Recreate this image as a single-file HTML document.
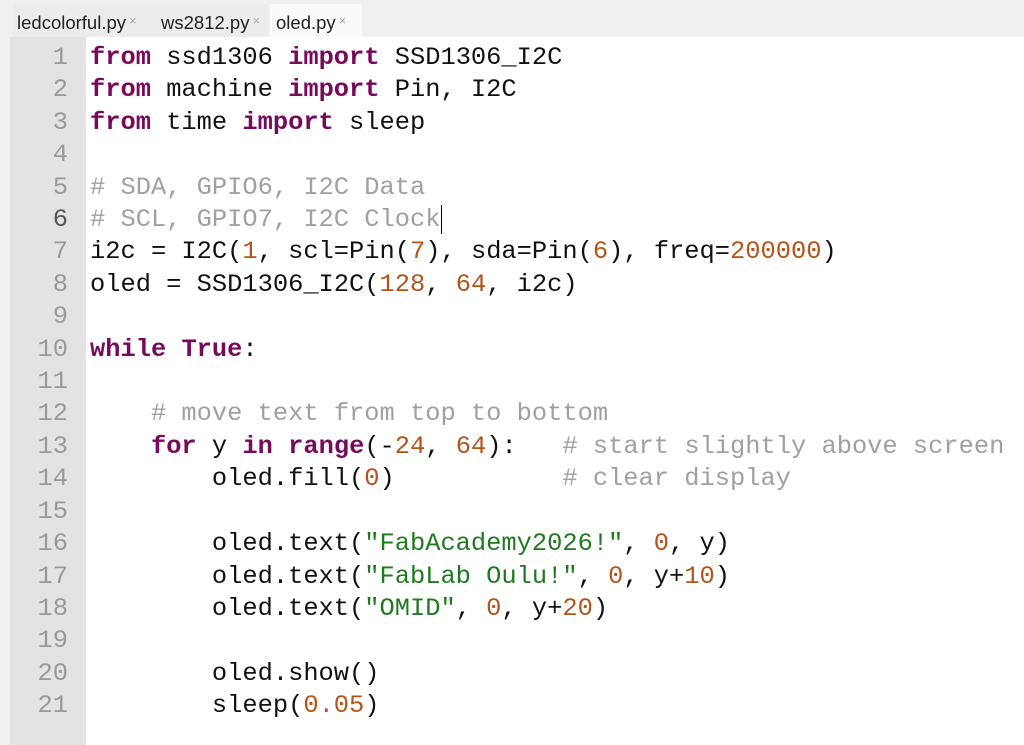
<!DOCTYPE html>
<html><head><meta charset="utf-8"><style>
body{margin:0;width:1024px;height:745px;overflow:hidden;background:#f0f0f0;font-family:"Liberation Sans",sans-serif;position:relative}
.tabs{position:absolute;top:0;left:0;width:1024px;height:37px;background:#f0f0f0}
.tab{position:absolute;top:4px;height:33px;font-size:18.5px;line-height:34px;color:#222;background:#ececec}
.tab span{color:#aaa;font-size:13px;margin-left:3px;vertical-align:4px}
.gut{position:absolute;left:10px;top:37px;width:76px;height:708px;background:#e3e3e3}
.code{position:absolute;left:86px;top:37px;width:938px;height:708px;background:#fff}
pre{margin:0;position:absolute;top:42px;font-family:"Liberation Mono",monospace;font-size:25.4px;line-height:32.4px}
.nums{left:10px;width:58px;text-align:right;color:#999}
.src{left:90px;color:#111}
.k{color:#770a5a;font-weight:bold}.n{color:#b4531a}.s{color:#1f7a1f}.c{color:#a0a0a0}
</style></head><body>
<div class="tabs">
<div class="tab" style="left:13px;width:139px;padding-left:4px">ledcolorful.py<span>×</span></div>
<div class="tab" style="left:155px;width:107px;padding-left:6px">ws2812.py<span>×</span></div>
<div class="tab" style="left:270px;width:86px;background:#fafafa;padding-left:6px">oled.py<span>×</span></div>
</div>
<div class="gut"></div><div class="code"></div>
<pre class="nums">1
2
3
4
5
<span style="color:#555">6</span>
7
8
9
10
11
12
13
14
15
16
17
18
19
20
21</pre>
<pre class="src"><span class="k">from</span> ssd1306 <span class="k">import</span> SSD1306_I2C
<span class="k">from</span> machine <span class="k">import</span> Pin, I2C
<span class="k">from</span> time <span class="k">import</span> sleep

<span class="c"># SDA, GPIO6, I2C Data</span>
<span class="c"># SCL, GPIO7, I2C Clock</span><span style="border-left:1px solid #000;margin-left:1px"></span>
i2c = I2C(<span class="n">1</span>, scl=Pin(<span class="n">7</span>), sda=Pin(<span class="n">6</span>), freq=<span class="n">200000</span>)
oled = SSD1306_I2C(<span class="n">128</span>, <span class="n">64</span>, i2c)

<span class="k">while</span> <span class="k">True</span>:

    <span class="c"># move text from top to bottom</span>
    <span class="k">for</span> y <span class="k">in</span> <span class="k">range</span>(-<span class="n">24</span>, <span class="n">64</span>):   <span class="c"># start slightly above screen</span>
        oled.fill(<span class="n">0</span>)           <span class="c"># clear display</span>

        oled.text(<span class="s">"FabAcademy2026!"</span>, <span class="n">0</span>, y)
        oled.text(<span class="s">"FabLab Oulu!"</span>, <span class="n">0</span>, y+<span class="n">10</span>)
        oled.text(<span class="s">"OMID"</span>, <span class="n">0</span>, y+<span class="n">20</span>)

        oled.show()
        sleep(<span class="n">0.05</span>)</pre>
</body></html>
